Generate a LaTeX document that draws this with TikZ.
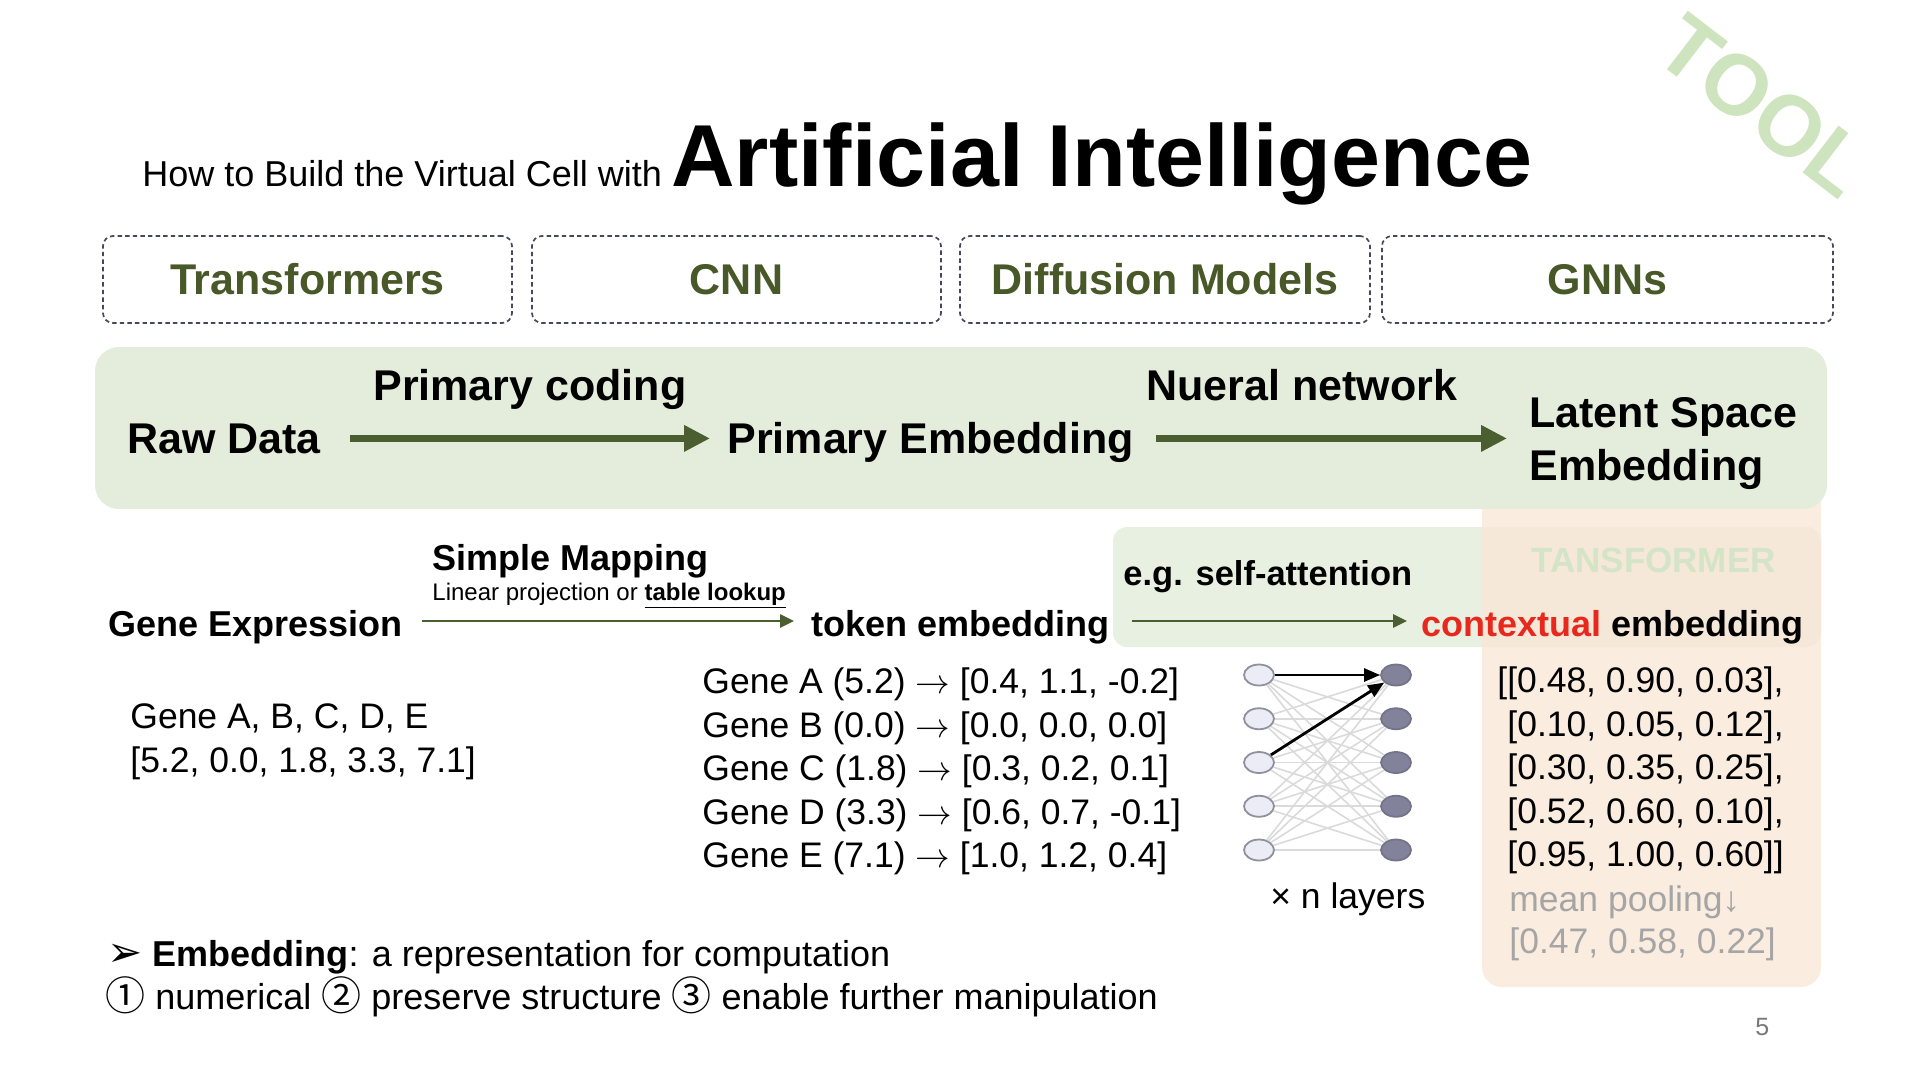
\documentclass[tikz,border=0pt]{standalone}
\usepackage{fontspec}
\setmainfont{Liberation Sans}
\newfontfamily\symfont{DejaVu Sans}
\newfontfamily\cjkfont{Noto Sans CJK SC}
\usetikzlibrary{arrows.meta,shapes.geometric,calc}

\newcommand\setfs[1]{\fontsize{#1pt}{#1pt}\selectfont}
\newcommand\circnum[1]{{\cjkfont\setfs{20}\raisebox{-0.6pt}{#1}}}

\definecolor{bannergreen}{RGB}{228,237,219}
\definecolor{softgreen}{RGB}{232,240,225}
\definecolor{peach}{RGB}{250,231,216}
\definecolor{arrowgreen}{RGB}{74,94,48}
\definecolor{labelgreen}{RGB}{72,88,40}
\definecolor{dashgray}{RGB}{70,72,90}
\definecolor{ctxred}{RGB}{232,40,28}
\definecolor{tfgreen}{RGB}{212,228,198}
\definecolor{toolgreen}{RGB}{205,228,190}
\definecolor{pagegray}{RGB}{120,120,120}
\definecolor{poolgray}{RGB}{165,165,165}
\definecolor{inlight}{RGB}{236,236,246}
\definecolor{indraw}{RGB}{145,145,158}
\definecolor{outdark}{RGB}{130,130,155}
\definecolor{outdraw}{RGB}{115,115,138}
\definecolor{netgray}{RGB}{218,218,218}

\tikzset{
  txt/.style={inner sep=0pt, anchor=base west},
  headfont/.style={font=\setfs{21.5}\bfseries},
  midfont/.style={font=\setfs{18}\bfseries},
  regfont/.style={font=\setfs{17.75}},
  modelbox/.style={draw=dashgray, dashed, dash pattern=on 2.2pt off 1.6pt, line width=0.85pt,
    rounded corners=5pt, minimum height=43.5pt, text=labelgreen, headfont},
  bigarrow/.style={draw=arrowgreen, line width=3.75pt, -{Triangle[length=13pt,width=12.5pt]}},
  thinarrow/.style={draw=arrowgreen, line width=1.3pt, -{Triangle[length=7pt,width=6.5pt]}},
  innode/.style={ellipse, minimum width=15pt, minimum height=10.5pt, inner sep=0pt,
    fill=inlight, draw=indraw, line width=0.9pt},
  outnode/.style={ellipse, minimum width=15pt, minimum height=10.5pt, inner sep=0pt,
    fill=outdark, draw=outdraw, line width=0.9pt},
  netline/.style={draw=netgray, line width=0.8pt},
  attn/.style={draw=black, line width=1.4pt, -{Triangle[length=8pt,width=6.5pt]}},
}

\begin{document}
\begin{tikzpicture}[x=0.5pt,y=-0.5pt]
\useasboundingbox (0,0) rectangle (1910,1072);

% watermark
\node[font=\setfs{43}\bfseries, text=toolgreen, rotate=-37.5, inner sep=0pt] (tool) at (1764,106) {TOOL};

% title
\node[txt, font=\setfs{18}] (sub) at (142,186) {How to Build the Virtual Cell with};
\node[txt, font=\setfs{44}\bfseries] (ai) at (671,186) {Artificial Intelligence};

% model families
\node[modelbox, minimum width=204.5pt] (tf)   at (307.5,279.5) {Transformers};
\node[modelbox, minimum width=204.5pt] (cnn)  at (736.5,279.5) {CNN};
\node[modelbox, minimum width=205pt]   (diff) at (1165,279.5) {Diffusion Models};
\node[modelbox, minimum width=225.5pt] (gnn)  at (1607.5,279.5) {GNNs};

% background panels
\fill[softgreen, rounded corners=7pt] (1113,527) rectangle (1821,647);
\fill[peach, fill opacity=0.8, rounded corners=10pt] (1482,480) rectangle (1821,987);
\fill[bannergreen, rounded corners=12pt] (95,347) rectangle (1827,509);

% main pipeline
\node[txt, headfont] (raw)  at (127,453)  {Raw Data};
\node[txt, headfont] (pemb) at (727,453)  {Primary Embedding};
\node[txt, headfont] (lat1) at (1529,427) {Latent Space};
\node[txt, headfont] (lat2) at (1529,480) {Embedding};
\node[txt, headfont] (pcod) at (373,400)  {Primary coding};
\node[txt, headfont] (nnet) at (1146,400) {Nueral network};
\draw[bigarrow] ($(raw.east)+(29,0)$) -- ($(pemb.west |- raw.east)+(-17,0)$);
\draw[bigarrow] ($(pemb.east |- raw.east)+(22,0)$) -- ($(lat1.west |- raw.east)+(-22,0)$);

% gene expression example
\node[txt, midfont] (gexp) at (108,636) {Gene Expression};
\node[txt, midfont] (tok)  at (811,636) {token embedding};
\node[txt, midfont] (ctx)  at (1421,636) {\textcolor{ctxred}{contextual} embedding};
\node[txt, midfont] (smap) at (432,570) {Simple Mapping};
\node[txt, font=\setfs{12}] (lin) at (432,600) {Linear projection or \textbf{\underline{table lookup}}};
\node[txt, font=\setfs{17.25}\bfseries] (satt) at (1123,585) {e.g. self-attention};
\node[txt, font=\setfs{17.5}\bfseries, text=tfgreen] (tans) at (1531,572) {TANSFORMER};
\draw[thinarrow] ($(gexp.base east)+(19,-15)$) -- ($(tok.base west)+(-17,-15)$);
\draw[thinarrow] ($(tok.base east)+(22,-15)$) -- ($(ctx.base west)+(-14,-15)$);

\node[txt, regfont] (glist) at (130,728) {Gene A, B, C, D, E};
\node[txt, regfont] (gval)  at (130,772) {[5.2, 0.0, 1.8, 3.3, 7.1]};

\foreach \i/\t in {1/{Gene A (5.2) $\rightarrow$ [0.4, 1.1, -0.2]},
                   2/{Gene B (0.0) $\rightarrow$ [0.0, 0.0, 0.0]},
                   3/{Gene C (1.8) $\rightarrow$ [0.3, 0.2, 0.1]},
                   4/{Gene D (3.3) $\rightarrow$ [0.6, 0.7, -0.1]},
                   5/{Gene E (7.1) $\rightarrow$ [1.0, 1.2, 0.4]}}
  \node[txt, regfont] (g\i) at (702,{650+43.5*\i}) {\t};

% contextual embedding matrix
\node[txt, regfont] (m1) at (1497,692) {[[0.48, 0.90, 0.03],};
\foreach \i/\t in {2/{[0.10, 0.05, 0.12],},
                   3/{[0.30, 0.35, 0.25],},
                   4/{[0.52, 0.60, 0.10],},
                   5/{[0.95, 1.00, 0.60]]}}
  \node[txt, regfont] (m\i) at (1507,{649+43.5*\i}) {\t};
\node[txt, regfont, text=poolgray] (pool) at (1509,911) {mean pooling↓};
\node[txt, regfont, text=poolgray] (mean) at (1509,953) {[0.47, 0.58, 0.22]};

% attention layer sketch
\foreach \i in {1,...,5} {
  \node[innode]  (l\i) at (1259,{631.25+43.75*\i}) {};
  \node[outnode] (r\i) at (1396,{631.25+43.75*\i}) {};
}
\foreach \i in {1,...,5}
  \foreach \j in {1,...,5}
    \draw[netline] (l\i) -- (r\j);
\draw[attn] (l1) -- (r1);
\draw[attn] (l3) -- (r1);
\node[txt, regfont] (nl) at (1270,908) {× n layers};

% definition
\node[txt, font=\setfs{18}] (def) at (107,966) {{\symfont\setfs{21}➢} \textbf{Embedding}: a representation for computation};
\node[txt, font=\setfs{18}] (props) at (105,1009) {\circnum{①} numerical \circnum{②} preserve structure \circnum{③} enable further manipulation};

\node[txt, font=\setfs{12.5}, text=pagegray] (page) at (1755,1035) {5};
\end{tikzpicture}
\end{document}
